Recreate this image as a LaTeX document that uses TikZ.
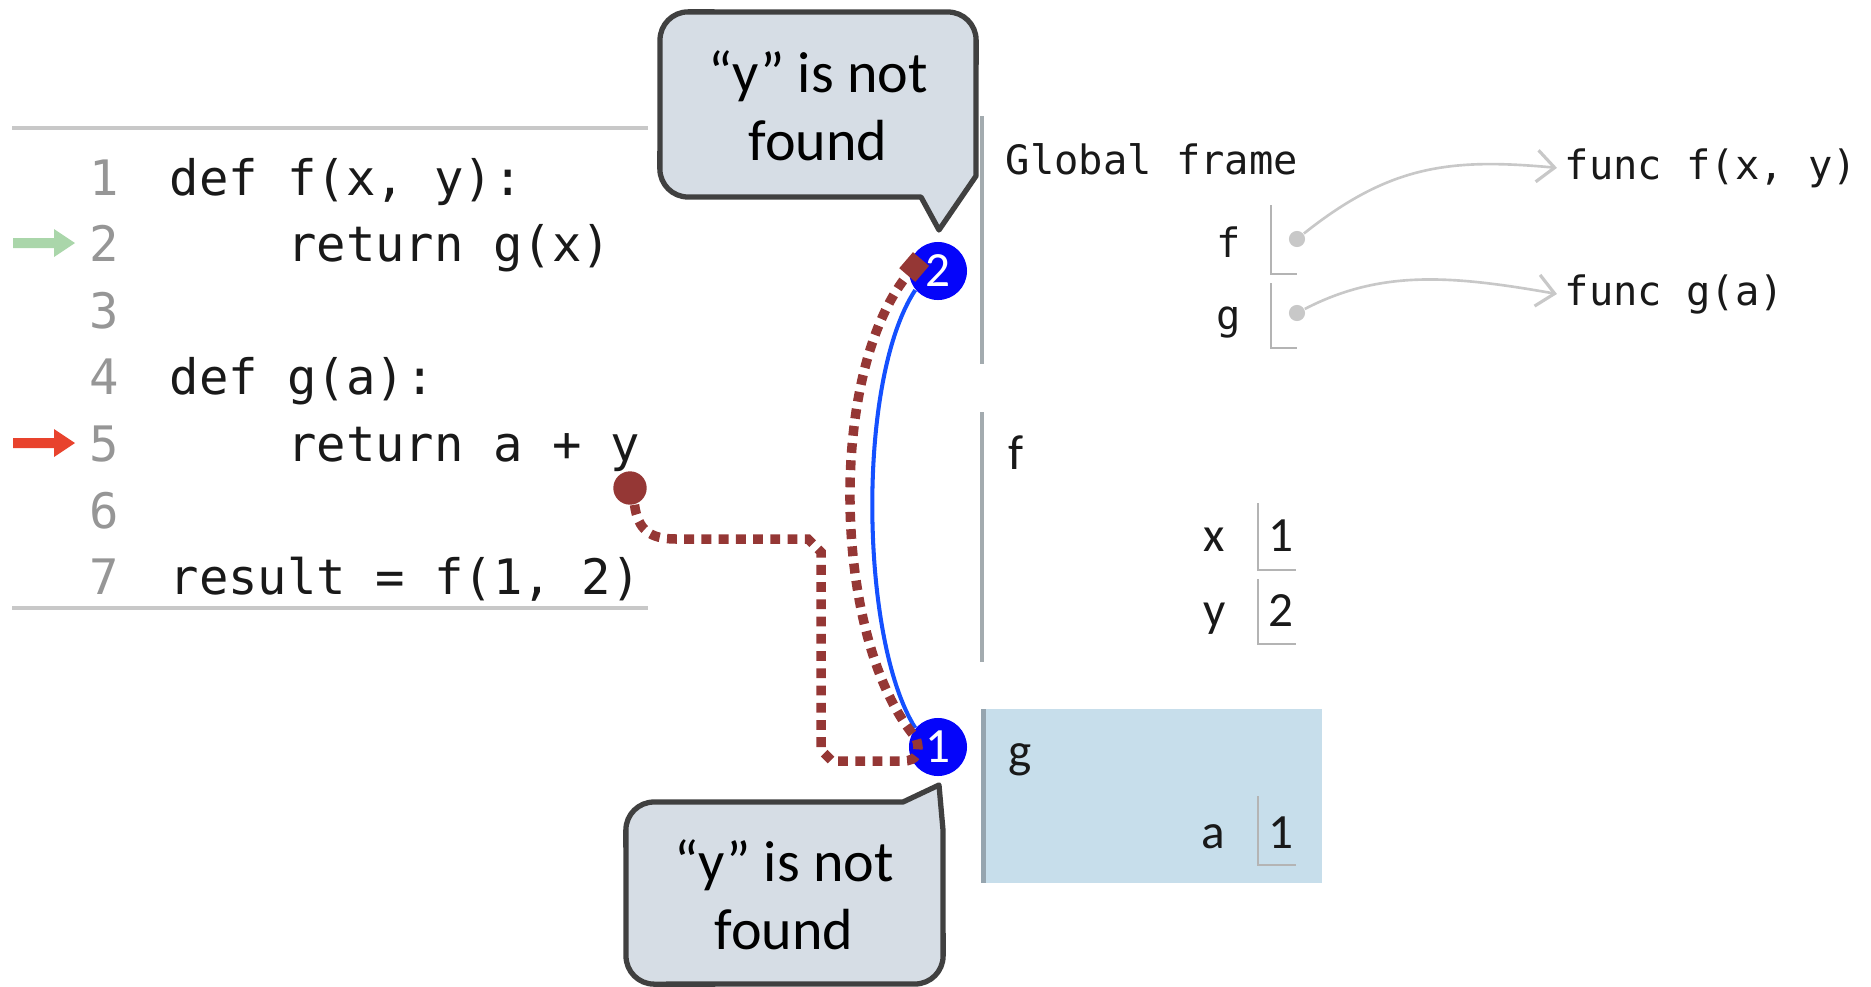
\documentclass[tikz,border=0pt]{standalone}
\usepackage{fontspec}
\setmainfont{Carlito}
\newfontfamily\monof{DejaVu Sans Mono}
\usetikzlibrary{arrows.meta}
\definecolor{tracered}{RGB}{149,55,53}
\definecolor{pureblue}{RGB}{5,5,250}
\definecolor{lineblue}{RGB}{20,80,255}
\definecolor{codegray}{RGB}{200,200,200}
\definecolor{numgray}{RGB}{150,150,150}
\definecolor{framebar}{RGB}{163,171,175}
\definecolor{ptrgray}{RGB}{200,200,200}
\definecolor{gframe}{RGB}{199,222,235}
\definecolor{gbar}{RGB}{150,165,175}
\definecolor{calloutfill}{RGB}{214,221,229}
\definecolor{calloutedge}{RGB}{64,64,64}
\definecolor{greenarrow}{RGB}{170,214,170}
\definecolor{redarrow}{RGB}{232,67,45}
\begin{document}
\begin{tikzpicture}[x=0.01cm,y=-0.01cm,
  codeln/.style={anchor=base east,inner sep=0,text=numgray,font=\monof\fontsize{13.9pt}{16pt}\selectfont},
  codetx/.style={anchor=base west,inner sep=0,text=black!90,font=\monof\fontsize{13.9pt}{16pt}\selectfont},
  monotx/.style={inner sep=0,text=black!90,font=\monof\fontsize{11.5pt}{14pt}\selectfont},
  sanstx/.style={inner sep=0,text=black!90,font=\fontsize{14pt}{16pt}\selectfont},
  rule/.style={draw=codegray,line width=1pt},
  fbar/.style={draw=framebar,line width=1.4pt},
  bracket/.style={draw=codegray!90!black,line width=0.45pt},
  gdot/.style={circle,fill=ptrgray,inner sep=0,minimum size=4.6pt},
  ptr/.style={draw=ptrgray,line width=0.75pt,-{Straight Barb[length=5pt,width=9pt,line width=0.9pt]}},
  numcirc/.style={circle,fill=pureblue,text=white,inner sep=0,minimum size=16.5pt,font=\fontsize{14pt}{14pt}\selectfont},
  callline/.style={draw=lineblue,line width=1.15pt},
  trace/.style={draw=tracered,line width=2.7pt,dash pattern=on 2.8pt off 2.1pt,-{Square[length=6pt,width=6pt]}},
  callout/.style={draw=calloutedge,fill=calloutfill,line width=1.5pt,line join=round},
  callouttx/.style={align=center,inner sep=0,font=\fontsize{16.5pt}{19.2pt}\selectfont}
]
\useasboundingbox (0,0) rectangle (1871,987);

% ---------- code panel ----------
\draw[rule] (12,128) -- (648,128);
\draw[rule] (12,608) -- (648,608);
\fill[greenarrow] (13,238) -- (54,238) -- (54,229) -- (75,243) -- (54,257) -- (54,248) -- (13,248) -- cycle;
\fill[redarrow] (13,438) -- (54,438) -- (54,429) -- (75,443) -- (54,457) -- (54,448) -- (13,448) -- cycle;
\node[codeln] (n1) at (120,195) {1};
\node[codeln] (n2) at (120,261.6) {2};
\node[codeln] (n3) at (120,328.2) {3};
\node[codeln] (n4) at (120,394.8) {4};
\node[codeln] (n5) at (120,461.4) {5};
\node[codeln] (n6) at (120,528) {6};
\node[codeln] (n7) at (120,594.6) {7};
\node[codetx] (l1) at (169,195) {def f(x, y):};
\node[codetx] (l2) at (286.5,261.6) {return g(x)};
\node[codetx] (l4) at (169,394.8) {def g(a):};
\node[codetx] (l5) at (286.5,461.4) {return a + y};
\node[codetx] (l7) at (169,594.6) {result = f(1, 2)};

% ---------- frames ----------
\draw[fbar] (982,116) -- (982,364);
\node[monotx,anchor=base west] (gft) at (1005,174) {Global frame};
\node[monotx,anchor=base east] (gfn) at (1242,257) {f};
\node[monotx,anchor=base east] (ggn) at (1242,329) {g};
\draw[bracket] (1271,205) |- (1297,274);
\draw[bracket] (1271,283) |- (1297,348);
\node[gdot] (fdot) at (1297,239) {};
\node[gdot] (gdotn) at (1297,313) {};
\node[monotx,anchor=base west] (funcf) at (1564,179) {func f(x, y)};
\node[monotx,anchor=base west] (funcg) at (1564,305) {func g(a)};
\draw[ptr] (fdot) .. controls (1390,165) and (1450,158) .. ([xshift=-2pt]funcf.west);
\draw[ptr] (gdotn) .. controls (1380,270) and (1450,275) .. ([xshift=-2pt]funcg.west);

\draw[fbar] (982,412) -- (982,662);
\node[sanstx,anchor=base west] (fft) at (1008,469) {f};
\node[sanstx,anchor=base east] (fx) at (1226,551) {x};
\node[sanstx,anchor=base east] (fy) at (1226,626) {y};
\draw[bracket] (1258,503) |- (1296,570);
\draw[bracket] (1258,579) |- (1296,644);
\node[sanstx,anchor=base west] (fxv) at (1268,551) {1};
\node[sanstx,anchor=base west] (fyv) at (1268,626) {2};

\fill[gframe] (981,709) rectangle (1322,883);
\draw[draw=gbar,line width=1.4pt] (983.5,709) -- (983.5,883);
\node[sanstx,anchor=base west] (gft2) at (1008,767) {g};
\node[sanstx,anchor=base east] (ga) at (1226,848) {a};
\draw[bracket] (1258,796) |- (1296,865);
\node[sanstx,anchor=base west] (gav) at (1268,848) {1};

% ---------- environment circles ----------
\node[numcirc] (c2) at (938,271) {2};
\node[numcirc] (c1) at (938,747) {1};
\draw[callline] (c1.140) .. controls (860,640) and (856,380) .. (c2.220);

% ---------- lookup trace ----------
\node[circle,fill=tracered,inner sep=0,minimum size=9.5pt] (ydot) at (630,488) {};
\coordinate (sqend) at (921,259);
\draw[trace] (ydot.-75) .. controls (638,530) and (650,539) .. (676,539) -- (808,539) -- (821,552) -- (821,750) -- (832,761) -- (903,761) .. controls (917,761) and (921,752) .. (916,738) .. controls (832,640) and (826,370) .. (sqend);

% ---------- callouts ----------
\draw[callout] (921,197) -- (688,197) arc[start angle=270,end angle=180,radius=8pt] -- (660,40) arc[start angle=180,end angle=90,radius=8pt] -- (948,12) arc[start angle=90,end angle=0,radius=8pt] -- (976,176) -- (939,230) -- cycle;
\node[callouttx] (topnote) at (818,106) {“y” is not\\found};

\draw[callout] (939,785) -- (903,802) -- (654,802) arc[start angle=90,end angle=180,radius=8pt] -- (626,956) arc[start angle=180,end angle=270,radius=8pt] -- (915,984) arc[start angle=270,end angle=360,radius=8pt] -- (943,830) -- cycle;
\node[callouttx] (botnote) at (784,895) {“y” is not\\found};
\end{tikzpicture}
\end{document}
